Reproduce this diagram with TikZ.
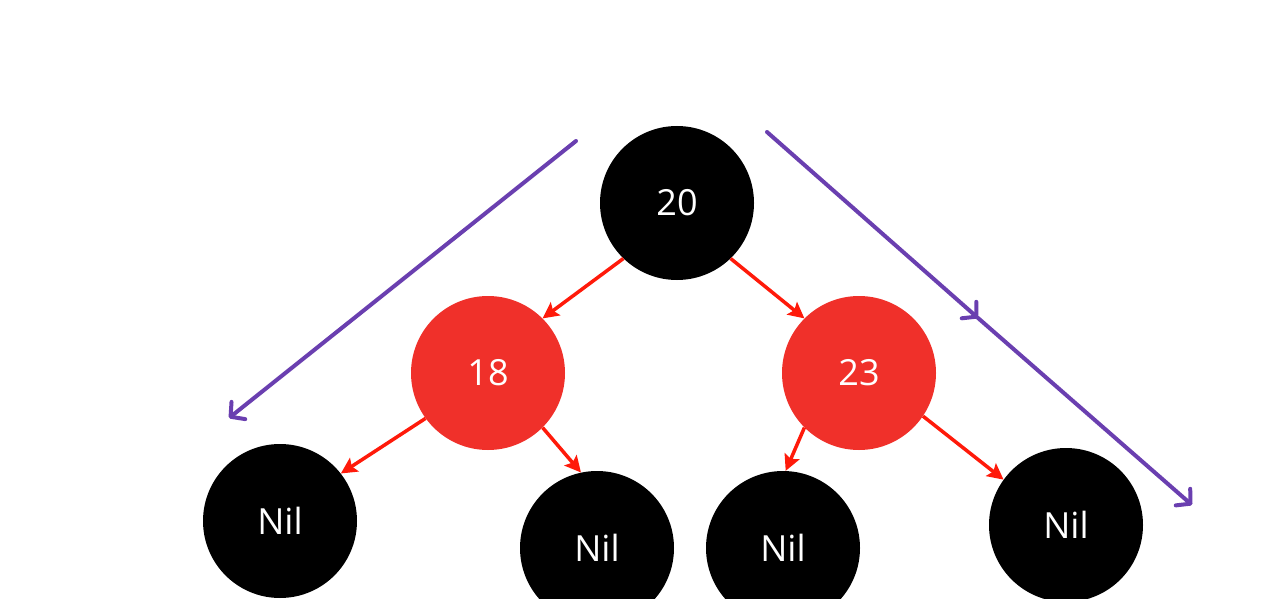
\documentclass[tikz,border=0pt]{standalone}
\usepackage{fontspec}
\setmainfont{Open Sans}
\usetikzlibrary{arrows.meta}
\definecolor{nodered}{HTML}{F0302A}
\definecolor{arrred}{HTML}{FF1A0A}
\definecolor{purp}{HTML}{6A3FB0}
\begin{document}
\begin{tikzpicture}[x=1pt,y=-1pt,
  blk/.style={circle,fill=black,minimum size=154pt,inner sep=0pt,text=white,font=\fontsize{36}{42}\selectfont},
  rd/.style={circle,fill=nodered,minimum size=154pt,inner sep=0pt,text=white,font=\fontsize{36}{42}\selectfont},
  redarr/.style={draw=arrred,line width=3.5pt,-{Stealth[length=16pt,width=16pt,inset=3pt]}},
  purarr/.style={draw=purp,line width=4pt,line cap=round,-{Straight Barb[length=10pt,width=22pt,line width=4pt,round]}}]
\useasboundingbox (0,0) rectangle (1262,599);
\clip (0,0) rectangle (1262,599);
\fill[white] (0,0) rectangle (1262,599);
\node[blk] (n20) at (677,203) {20};
\node[rd] (n18) at (488,373) {18};
\node[rd] (n23) at (859,373) {23};
\node[blk] (nil1) at (280,521) {Nil};
\node[blk] (nil2) at (597,548) {Nil};
\node[blk] (nil3) at (783,548) {Nil};
\node[blk] (nil4) at (1066,525) {Nil};
\draw[redarr] (n20.226) -- (n18.45);
\draw[redarr] (n20.-46) -- (n23.135);
\draw[redarr] (n18.216) -- (nil1.38);
\draw[redarr] (n18.-45) -- (nil2.102);
\draw[redarr] (n23.-135) -- (nil3.88);
\draw[redarr] (n23.-34) -- (nil4.144);
\coordinate (la) at (576,141);
\coordinate (lb) at (229,418);
\coordinate (ra) at (767,132);
\coordinate (rb) at (978,318);
\coordinate (rc) at (1192,505);
\draw[purarr] (la) -- (lb);
\draw[purarr] (ra) -- (rb);
\draw[purarr] (rb) -- (rc);
\end{tikzpicture}
\end{document}
